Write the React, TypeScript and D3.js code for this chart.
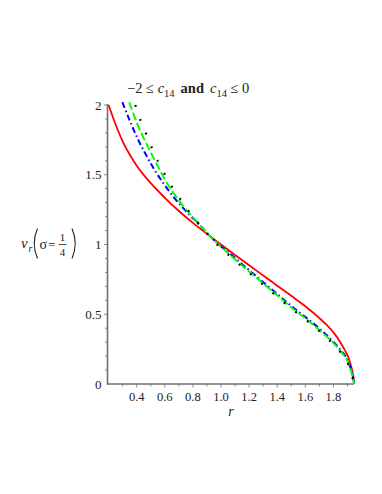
import React from "react";
import * as d3 from "d3";

type P = [number, number];

const redSeries: P[] = [
  [0.2, 2.0], [0.25, 1.86], [0.3, 1.74], [0.35, 1.645], [0.4, 1.565], [0.5, 1.44],
  [0.6, 1.335], [0.7, 1.24], [0.8, 1.155], [0.9, 1.076], [1.0, 1.0], [1.1, 0.925],
  [1.2, 0.851], [1.3, 0.778], [1.4, 0.705], [1.5, 0.632], [1.6, 0.557], [1.7, 0.472],
  [1.75, 0.425], [1.8, 0.37], [1.85, 0.298], [1.88, 0.245], [1.9, 0.205], [1.92, 0.148],
  [1.935, 0.09], [1.945, 0.03], [1.948, 0.0],
];

const blueSeries: P[] = [
  [0.298, 2.02], [0.35, 1.89], [0.41, 1.752], [0.47, 1.636], [0.53, 1.53], [0.6, 1.425],
  [0.66, 1.343], [0.73, 1.262], [0.85, 1.138], [0.97, 1.012], [1.064, 0.935], [1.135, 0.872],
  [1.219, 0.8], [1.301, 0.73], [1.385, 0.658], [1.468, 0.586], [1.539, 0.528],
  [1.626, 0.46], [1.705, 0.393], [1.783, 0.32], [1.847, 0.248], [1.906, 0.158],
  [1.937, 0.06], [1.948, 0.0],
];

const greenSeries: P[] = [
  [0.347, 2.02], [0.4, 1.875], [0.45, 1.762], [0.5, 1.66], [0.55, 1.562], [0.6, 1.466],
  [0.66, 1.372], [0.72, 1.29], [0.8, 1.195], [0.9, 1.084], [0.98, 1.002], [1.064, 0.925],
  [1.135, 0.862], [1.219, 0.79], [1.301, 0.72], [1.385, 0.648], [1.468, 0.576],
  [1.539, 0.518], [1.626, 0.45], [1.705, 0.383], [1.783, 0.311], [1.847, 0.24],
  [1.906, 0.149], [1.937, 0.05], [1.948, 0.0],
];

const blackSeries: P[] = [
  [0.39, 2.0], [0.431, 1.88], [0.471, 1.785], [0.511, 1.684], [0.554, 1.59],
  [0.601, 1.5], [0.656, 1.405], [0.715, 1.318], [0.774, 1.233], [0.838, 1.152],
  [0.91, 1.068], [0.981, 0.991], [1.064, 0.917], [1.135, 0.853], [1.219, 0.781],
  [1.301, 0.71], [1.385, 0.638], [1.468, 0.568], [1.539, 0.511], [1.626, 0.442],
  [1.705, 0.375], [1.783, 0.303], [1.847, 0.232], [1.906, 0.141], [1.937, 0.041],
  [1.948, 0.0],
];

const xMajorTicks = [0.4, 0.6, 0.8, 1.0, 1.2, 1.4, 1.6, 1.8];
const xMinorTicks = [0.3, 0.4, 0.5, 0.6, 0.7, 0.8, 0.9, 1.0, 1.1, 1.2, 1.3, 1.4, 1.5, 1.6, 1.7, 1.8, 1.9];
const yMajorTicks = [0, 0.5, 1, 1.5, 2];
const yMinorTicks = [0.1, 0.2, 0.3, 0.4, 0.5, 0.6, 0.7, 0.8, 0.9, 1.0, 1.1, 1.2, 1.3, 1.4, 1.5, 1.6, 1.7, 1.8, 1.9, 2.0];

const SERIF = "'Liberation Serif', 'DejaVu Serif', serif";

export default function App() {
  const x = d3.scaleLinear().domain([0.2, 1.95]).range([108.6, 354.5]);
  const y = d3.scaleLinear().domain([0, 2]).range([384, 105]);
  const line = d3
    .line<P>()
    .x((d) => x(d[0]))
    .y((d) => y(d[1]))
    .curve(d3.curveMonotoneX);

  const axisColor = "#6e6e6e";
  const textColor = "#222";

  return (
    <svg
      width={382}
      height={494}
      style={{ position: "absolute", left: 0, top: 0, display: "block", background: "#fff" }}
    >
      <defs>
        <clipPath id="plotclip">
          <rect x={100} y={99} width={270} height={290} />
        </clipPath>
      </defs>

      {/* title */}
      <text x={127} y={93} fontFamily={SERIF} fontSize={14.5} fill={textColor}>
        <tspan>−2 ≤ </tspan>
        <tspan fontStyle="italic">c</tspan>
        <tspan fontSize={10.5} dy={4}>14</tspan>
        <tspan dy={-4} fontWeight="bold" dx={6}>and</tspan>
        <tspan dx={6} fontStyle="italic">c</tspan>
        <tspan fontSize={10.5} dy={4}>14</tspan>
        <tspan dy={-4}> ≤ 0</tspan>
      </text>

      {/* y-axis label */}
      <g fontFamily={SERIF} fill={textColor}>
        <text x={21} y={248} fontSize={15} fontStyle="italic">v</text>
        <text x={28.5} y={252} fontSize={10} fontStyle="italic">r</text>
        <path d="M 37.5 228.5 Q 31 243.5 37.5 258.5" fill="none" stroke={textColor} strokeWidth={1.1} />
        <text x={39.5} y={248.5} fontSize={14}>σ</text>
        <text x={48} y={248.5} fontSize={13}>=</text>
        <text x={62.5} y={241} fontSize={11} textAnchor="middle">1</text>
        <line x1={58.5} x2={66.5} y1={244.5} y2={244.5} stroke={textColor} strokeWidth={0.8} />
        <text x={62.5} y={256} fontSize={11} textAnchor="middle">4</text>
        <path d="M 72 228.5 Q 78.5 243.5 72 258.5" fill="none" stroke={textColor} strokeWidth={1.1} />
      </g>

      {/* axes */}
      <line x1={107.5} x2={354} y1={384} y2={384} stroke={axisColor} strokeWidth={1.6} />
      <line x1={107.5} x2={107.5} y1={104} y2={384.8} stroke={axisColor} strokeWidth={1.6} />

      {xMinorTicks.map((t) => (
        <line key={"xm" + t} x1={x(t)} x2={x(t)} y1={384} y2={xMajorTicks.includes(t) ? 387.5 : 386.5} stroke={axisColor} strokeWidth={0.8} />
      ))}
      {yMinorTicks.map((t) => (
        <line key={"ym" + t} x1={yMajorTicks.includes(t) ? 104 : 105} x2={107.5} y1={y(t)} y2={y(t)} stroke={axisColor} strokeWidth={0.8} />
      ))}

      {xMajorTicks.map((t) => (
        <text key={"xl" + t} x={x(t)} y={401} textAnchor="middle" fontFamily={SERIF} fontSize={12.5} fill={textColor}>
          {t.toFixed(1)}
        </text>
      ))}
      {yMajorTicks.map((t) => (
        <text key={"yl" + t} x={101.5} y={y(t) + 4.5} textAnchor="end" fontFamily={SERIF} fontSize={13} fill={textColor}>
          {String(t)}
        </text>
      ))}
      <text x={231} y={416} textAnchor="middle" fontFamily={SERIF} fontSize={14} fontStyle="italic" fill={textColor}>
        r
      </text>

      {/* curves */}
      <g clipPath="url(#plotclip)" fill="none">
        <path d={line(redSeries) || ""} stroke="#ff0000" strokeWidth={1.8} />
        <path d={line(blueSeries) || ""} stroke="#0000ff" strokeWidth={2} strokeDasharray="6 3 1.5 3" />
        <path d={line(greenSeries) || ""} stroke="#00ff00" strokeWidth={2} strokeDasharray="8 3" />
        <path d={line(blackSeries) || ""} stroke="#000000" strokeWidth={2.2} strokeDasharray="1.8 13" />
      </g>
    </svg>
  );
}
